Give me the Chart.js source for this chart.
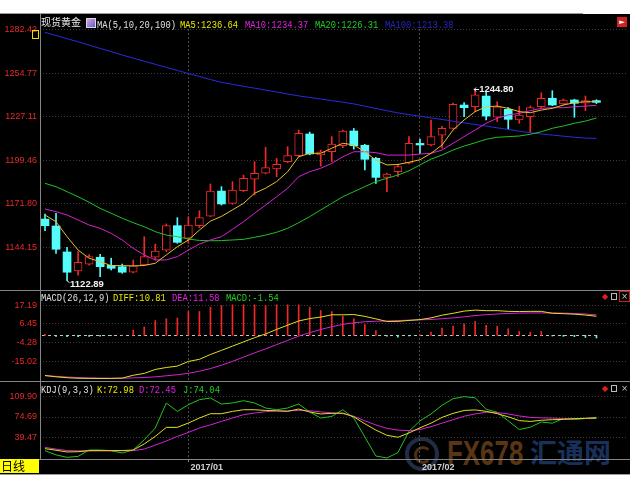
<!DOCTYPE html>
<html>
<head>
<meta charset="utf-8">
<script src="https://cdn.jsdelivr.net/npm/chart.js@4.4.0/dist/chart.umd.min.js"></script>
<style>
  body { margin: 0; background: #fff; }
  #topline { position: absolute; left: 0; top: 13px; width: 583px; height: 1px; background: #9a9a9a; }
  #botline { position: absolute; left: 0; top: 474px; width: 630px; height: 1px; background: #9a9a9a; }
  #wrap { position: absolute; left: 0; top: 14px; width: 630px; height: 460px; background: #000; overflow: hidden; }
  canvas { position: absolute; left: 0; z-index: 1; }
  .hl { position: absolute; left: 0; width: 630px; height: 1px; background: #858585; z-index: 2; }
  .vl { position: absolute; left: 40px; top: 0; width: 1px; height: 445px; background: #858585; z-index: 2; }
  .t { position: absolute; white-space: pre; font: 10.5px/12px "Liberation Mono", monospace; transform: scaleX(0.837); transform-origin: 0 0; z-index: 2; }
  .cjk { position: absolute; white-space: pre; font: 10px/12px "Noto Sans CJK SC", sans-serif; color: #e8e8e8; z-index: 2; }
  .ico { position: absolute; z-index: 2; font: 8px/8px "DejaVu Sans", sans-serif; }
  #day { position: absolute; left: 0; top: 445px; width: 38px; height: 14px; background: #ffff00; color: #000;
         font: 12px/14px "Noto Sans CJK SC", sans-serif; padding-left: 1px; z-index: 3; }
  .wm { position: absolute; white-space: pre; z-index: 0; }
</style>
</head>
<body>
<div id="topline"></div>
<div id="wrap">
  <div class="wm" style="left:405px;top:423px;width:26px;height:26px;border:4px solid #222c44;border-radius:50%;"></div>
  <div class="wm" style="left:414px;top:432px;width:12px;height:12px;border:3px solid #4e2e14;border-radius:50%;border-right-color:transparent;"></div>
  <div class="wm" style="left:447px;top:421px;font:bold 35px/35px 'Liberation Sans',sans-serif;color:#5a3514;transform:scaleX(0.74);transform-origin:0 0;">FX678</div>
  <div class="wm" style="left:530px;top:424px;font:bold 27px/27px 'Noto Sans CJK SC',sans-serif;color:#18305a;">汇通网</div>

  <canvas id="c1" width="630" height="276" style="top:0"></canvas>
  <canvas id="c2" width="630" height="92" style="top:276px"></canvas>
  <canvas id="c3" width="630" height="92" style="top:368px"></canvas>

  <div class="vl"></div>
  <div class="hl" style="top:276px"></div>
  <div class="hl" style="top:367px"></div>
  <div class="hl" style="top:445px"></div>

  <div class="ico" style="left:32px;top:16px;width:5px;height:7px;border:1px solid #e8e000;"></div>
  <div class="ico" style="left:86px;top:4px;width:8px;height:8px;border:1px solid #d8d8d8;background:linear-gradient(135deg,#e0a0e0,#6060d0);"></div>
  <div class="ico" style="left:617px;top:3px;width:10px;height:10px;background:#d02020;color:#fff;text-align:center;font-size:7px;line-height:10px;">&#9658;</div>

  <div class="ico" style="left:602px;top:279px;color:#e02020;">&#9670;</div>
  <div class="ico" style="left:611px;top:279px;width:4px;height:5px;border:1px solid #bbb;"></div>
  <div class="ico" style="left:619px;top:277px;width:9px;height:9px;border:1px solid #c02020;color:#ccc;text-align:center;line-height:9px;">&#215;</div>
  <div class="ico" style="left:602px;top:371px;color:#e02020;">&#9670;</div>
  <div class="ico" style="left:611px;top:371px;width:4px;height:5px;border:1px solid #bbb;"></div>
  <div class="ico" style="left:620px;top:370px;width:9px;height:9px;color:#ccc;text-align:center;line-height:9px;">&#215;</div>

  <div id="day">日线</div>
  <div id="heads"></div>
</div>
<div id="botline"></div>

<script>
// daily candles, 13 Dec 2016 .. Feb 2017
const opens  = [1162.1,1157.7,1141.2,1129.1,1133.5,1137.8,1132.7,1131.8,1128.3,1132.9,1137.8,1142.4,1157.9,1149.9,1157.9,1164.0,1179.9,1172.1,1180.1,1187.4,1191.2,1193.9,1198.6,1202.4,1216.2,1202.8,1204.9,1208.7,1218.1,1209.0,1200.7,1188.6,1192.2,1197.6,1210.2,1209.2,1215.5,1219.8,1234.6,1233.5,1240.3,1226.8,1231.9,1225.1,1227.2,1233.5,1238.9,1235.3,1237.8,1235.7,1237.4];
const highs  = [1165.3,1165.8,1144.2,1141.4,1139.5,1139.7,1137.2,1133.5,1136.1,1150.9,1146.2,1159.0,1163.0,1163.6,1167.4,1184.4,1182.7,1185.9,1190.1,1198.6,1207.7,1200.7,1208.1,1218.7,1217.4,1206.0,1214.5,1218.7,1219.7,1209.6,1201.4,1191.3,1197.1,1214.5,1213.0,1225.1,1221.0,1235.9,1236.1,1244.8,1242.7,1236.7,1233.0,1233.8,1234.0,1242.4,1243.7,1238.5,1238.3,1240.3,1238.0];
const lows   = [1154.7,1140.3,1122.89,1126.5,1132.8,1125.5,1129.7,1127.6,1127.9,1132.5,1136.1,1141.4,1146.7,1146.7,1156.6,1163.6,1171.0,1171.4,1179.6,1177.4,1190.8,1189.0,1198.0,1201.7,1202.9,1195.8,1198.6,1207.5,1206.6,1193.3,1184.8,1179.5,1189.0,1197.1,1203.9,1208.6,1207.1,1219.2,1227.2,1230.4,1225.1,1224.0,1219.2,1223.0,1217.1,1232.9,1234.2,1234.6,1226.8,1231.0,1235.5];
const closes = [1157.9,1142.9,1128.3,1134.6,1138.2,1131.8,1130.8,1128.3,1132.4,1138.2,1141.8,1157.9,1147.3,1158.3,1163.0,1179.9,1171.7,1180.6,1188.0,1191.2,1194.8,1196.9,1202.4,1216.6,1203.5,1204.9,1209.8,1218.1,1208.7,1200.1,1188.6,1190.7,1195.4,1210.3,1209.2,1214.5,1219.8,1235.0,1232.9,1241.0,1227.6,1233.5,1225.5,1228.2,1232.9,1238.9,1234.6,1237.8,1235.7,1237.4,1236.3];

const ma5   = [1164.7,1160.4,1150.9,1142.4,1137.2,1135.0,1132.5,1132.5,1132.3,1132.6,1134.0,1139.3,1144.5,1148.8,1155.1,1160.8,1163.8,1167.9,1172.1,1178.5,1181.7,1185.9,1192.2,1201.7,1203.9,1203.9,1207.1,1210.3,1209.2,1204.9,1199.6,1196.5,1196.8,1198.2,1199.8,1203.9,1209.2,1218.7,1225.1,1230.4,1233.5,1233.9,1232.5,1230.4,1229.7,1231.4,1232.5,1234.6,1236.1,1236.7,1236.64];
const ma10  = [1168.5,1166.8,1164.7,1161.5,1158.3,1156.2,1153.0,1148.8,1143.5,1139.3,1136.1,1136.1,1138.2,1142.4,1146.2,1148.8,1150.9,1155.6,1160.4,1165.8,1171.0,1176.3,1181.7,1189.0,1192.2,1194.4,1197.5,1201.7,1204.9,1204.9,1204.3,1202.8,1202.8,1202.8,1203.5,1203.9,1206.0,1210.3,1214.5,1218.7,1223.0,1226.2,1228.3,1229.3,1231.0,1232.5,1232.9,1232.9,1233.5,1233.9,1234.37];
const ma20  = [1184.8,1182.7,1179.5,1176.3,1172.8,1168.9,1165.8,1162.6,1159.8,1157.2,1154.1,1151.9,1150.9,1149.4,1148.5,1148.3,1148.4,1148.8,1149.2,1150.5,1151.9,1153.7,1156.2,1159.8,1163.6,1167.9,1172.1,1176.3,1179.5,1182.7,1185.9,1188.0,1190.1,1192.8,1196.5,1200.2,1202.8,1206.0,1208.5,1210.6,1212.8,1214.1,1214.5,1214.9,1216.0,1217.6,1219.8,1221.3,1223.0,1224.4,1226.31];
const ma100 = [1280.8,1278.8,1276.8,1274.8,1272.7,1270.6,1268.5,1266.4,1264.4,1262.4,1260.5,1258.5,1256.6,1254.6,1252.7,1250.8,1249.0,1247.8,1246.5,1245.3,1244.1,1242.9,1241.6,1240.4,1239.4,1238.4,1237.4,1236.4,1235.3,1233.9,1232.4,1231.0,1229.6,1228.5,1227.5,1226.4,1225.4,1224.3,1223.3,1222.2,1221.2,1220.1,1219.1,1218.0,1217.0,1216.2,1215.5,1214.8,1214.1,1213.6,1213.38];

const diff = [-22.8,-23.6,-24.1,-24.4,-24.5,-24.55,-24.5,-24.3,-22.7,-21.65,-19.4,-18.3,-17.5,-14.85,-13.65,-10.9,-8.55,-6.15,-3.75,-1.35,0.75,3.35,5.75,8.15,9.5,10.35,11.65,11.65,11.8,10.75,9.35,7.85,7.9,8.45,8.9,9.9,11.45,12.5,13.75,14.3,14.0,14.0,13.6,13.5,13.6,13.6,12.5,12.3,12.0,11.5,10.81];
const dea  = [-23.0,-23.3,-23.7,-24.0,-24.2,-24.3,-24.4,-24.4,-24.2,-24.0,-23.6,-23.0,-22.4,-21.6,-20.4,-18.9,-17.0,-14.8,-12.4,-10.0,-7.7,-5.3,-2.9,-0.5,1.5,3.3,4.9,6.2,7.1,7.7,8.0,8.1,8.4,8.6,8.8,9.0,9.4,9.9,10.5,11.2,11.7,12.1,12.4,12.6,12.7,12.7,12.7,12.6,12.4,12.1,11.58];
const hist = [0.5,-0.6,-0.8,-0.8,-0.6,-0.5,-0.1,0.1,3.0,4.7,8.4,9.4,9.8,13.5,13.5,16.0,16.9,17.3,17.3,17.3,16.9,17.3,17.3,17.3,16.0,14.1,13.5,10.9,9.4,6.1,2.7,-0.5,-1.0,-0.3,0.2,1.8,4.1,5.2,6.5,7.8,5.6,5.2,3.7,2.2,1.8,2.2,-0.4,-0.6,-0.8,-1.2,-1.54];

const kLine = [19.8,17.0,14.0,14.5,16.3,16.3,16.3,16.5,17.4,28.0,41.1,56.7,56.7,64.3,72.9,80.4,80.4,84.4,87.3,87.3,86.1,85.5,84.4,88.5,83.4,80.0,81.0,81.5,75.0,63.0,52.0,43.0,39.5,47.0,56.0,64.0,74.0,81.0,86.0,87.0,84.5,80.5,75.0,68.5,67.0,69.0,70.0,70.5,71.7,72.5,72.98];
const dLine = [22.0,19.0,16.5,16.0,16.0,16.2,16.3,16.3,16.3,19.0,26.0,33.0,41.0,48.0,55.6,61.0,67.0,73.0,78.7,81.5,84.0,85.0,85.6,86.0,85.6,83.5,82.0,80.5,76.0,68.0,61.0,55.0,52.0,51.0,53.0,58.0,64.0,70.0,76.0,80.0,83.0,82.5,80.0,76.5,74.0,73.2,72.8,72.0,71.8,72.1,72.45];
const jLine = [16.3,9.0,4.7,6.4,17.4,17.4,16.3,12.3,17.4,35.3,55.6,99.0,84.4,96.0,104.7,107.6,97.2,99.0,103.0,99.0,90.3,87.3,90.3,97.2,83.4,72.9,75.7,87.3,72.9,40.0,7.0,3.6,13.0,50.0,68.0,80.0,95.0,106.4,110.0,108.0,88.0,83.0,68.0,53.0,57.0,66.0,64.0,72.0,70.5,72.0,74.04];

const priceTicks = [1144.15, 1171.80, 1199.46, 1227.11, 1254.77, 1282.42];
const macdTicks = [-15.02, -4.28, 6.45, 17.19];
const kdjTicks = [39.47, 74.69, 109.90];
const monthTickIdx = [13, 34];
const monthTickLabels = ['2017/01', '2017/02'];

const X_MIN = -0.453, X_MAX = 52.86;
const RED = '#f02828', CYAN = '#54fcfc';
const YEL = '#e6c22a', MAG = '#d424d4', GRN = '#22c222', BLU = '#2a2ae0';

Chart.defaults.font.family = '"Liberation Sans", Arial, sans-serif';

const last = a => a[a.length - 1];
const pts = a => a.map((v, i) => ({ x: i, y: v }));

// header texts
const heads = document.getElementById('heads');
function head(x, top, text, color) {
  const d = document.createElement('div');
  d.className = 't';
  d.style.left = x + 'px'; d.style.top = top + 'px'; d.style.color = color;
  d.textContent = text;
  heads.appendChild(d);
}
const cj = document.createElement('div');
cj.className = 'cjk'; cj.style.left = '41px'; cj.style.top = '1.5px'; cj.textContent = '现货黄金';
heads.appendChild(cj);
head(97, 5, 'MA(5,10,20,100)', '#e0e0e0');
head(180, 5, 'MA5:' + last(ma5).toFixed(2), '#e8e800');
head(245, 5, 'MA10:' + last(ma10).toFixed(2), '#e020e0');
head(315, 5, 'MA20:' + last(ma20).toFixed(2), '#20d020');
head(385, 5, 'MA100:' + last(ma100).toFixed(2), '#2626c4');
head(41, 278, 'MACD(26,12,9)', '#e0e0e0');
head(113, 278, 'DIFF:' + last(diff).toFixed(2), '#e8e800');
head(172, 278, 'DEA:' + last(dea).toFixed(2), '#e020e0');
head(226, 278, 'MACD:' + last(hist).toFixed(2), '#20d020');
head(41, 369.5, 'KDJ(9,3,3)', '#e0e0e0');
head(97, 369.5, 'K:' + last(kLine).toFixed(2), '#e8e800');
head(139, 369.5, 'D:' + last(dLine).toFixed(2), '#e020e0');
head(183, 369.5, 'J:' + last(jLine).toFixed(2), '#20d020');

function xAxis(bottom) {
  return {
    type: 'linear', min: X_MIN, max: X_MAX, offset: false,
    afterBuildTicks: s => { s.ticks = monthTickIdx.map(v => ({ value: v })); },
    afterFit: s => { s.height = bottom ? 15 : 0; s.paddingLeft = 0; s.paddingRight = 0; },
    grid: { offset: false, color: '#4c4c4c', drawTicks: bottom, tickLength: 3, tickColor: '#8a8a8a' },
    border: { display: false, dash: [2, 2] },
    ticks: {
      display: bottom, autoSkip: false, maxRotation: 0, align: 'start', labelOffset: 2, padding: 0,
      color: '#d0d0d0', font: { size: 9, weight: 'bold' },
      callback: (v, i) => monthTickLabels[i]
    }
  };
}
function yAxis(min, max, ticks) {
  return {
    type: 'linear', position: 'left', min: min, max: max,
    afterBuildTicks: s => { s.ticks = ticks.map(v => ({ value: v })); },
    afterFit: s => { s.width = 40; s.paddingTop = 0; s.paddingBottom = 0; },
    grid: { color: '#3c3c3c', drawTicks: false },
    border: { display: false, dash: [1, 2] },
    ticks: { color: '#e82828', padding: 3, autoSkip: false, font: { size: 9 }, callback: v => v.toFixed(2) }
  };
}
function lineSet(data, color) {
  return { type: 'line', data: pts(data), borderColor: color, borderWidth: 1, pointRadius: 0, tension: 0, order: 1 };
}
function baseOptions(padTop, yMin, yMax, yTicks, bottom) {
  return {
    responsive: false, animation: false, devicePixelRatio: 1, events: [],
    layout: { autoPadding: false, padding: { top: padTop, right: 2, left: 0, bottom: 0 } },
    plugins: { legend: { display: false }, tooltip: { enabled: false } },
    scales: { x: xAxis(bottom), y: yAxis(yMin, yMax, yTicks) }
  };
}

// main candle panel
const idx = closes.map((_, i) => i);
const upIdx = idx.filter(i => closes[i] >= opens[i]);
const dnIdx = idx.filter(i => closes[i] < opens[i]);

const markPlugin = {
  id: 'marks',
  afterDatasetsDraw(chart) {
    const { ctx, scales: { x, y } } = chart;
    const hi = highs.indexOf(Math.max(...highs));
    const lo = lows.indexOf(Math.min(...lows));
    ctx.save();
    ctx.fillStyle = '#f0f0f0'; ctx.strokeStyle = '#f0f0f0'; ctx.lineWidth = 1;
    ctx.font = 'bold 9.5px "Liberation Sans"';
    const hx = x.getPixelForValue(hi) - 1, hy = Math.round(y.getPixelForValue(highs[hi])) + 0.5;
    ctx.beginPath();
    ctx.moveTo(hx, hy); ctx.lineTo(hx + 5, hy);
    ctx.moveTo(hx, hy); ctx.lineTo(hx + 2, hy - 2);
    ctx.moveTo(hx, hy); ctx.lineTo(hx + 2, hy + 2);
    ctx.stroke();
    ctx.textBaseline = 'middle';
    ctx.fillText(highs[hi].toFixed(2), hx + 5, hy);
    const lx = x.getPixelForValue(lo), ly = y.getPixelForValue(lows[lo]);
    ctx.beginPath(); ctx.moveTo(lx, ly); ctx.lineTo(lx + 2.5, ly + 2); ctx.stroke();
    ctx.textBaseline = 'top';
    ctx.fillText(lows[lo].toFixed(2), lx + 3, ly - 1.5);
    ctx.restore();
  }
};

new Chart(document.getElementById('c1'), {
  type: 'bar',
  data: {
    datasets: [
      lineSet(ma5, YEL), lineSet(ma10, MAG), lineSet(ma20, GRN), lineSet(ma100, BLU),
      { type: 'bar', data: upIdx.map(i => ({ x: i, y: [opens[i], closes[i]] })), backgroundColor: '#000', borderColor: RED,
        borderWidth: 1, borderSkipped: false, barThickness: 8, minBarLength: 1, grouped: false, order: 2 },
      { type: 'bar', data: dnIdx.map(i => ({ x: i, y: [closes[i], opens[i]] })), backgroundColor: CYAN, borderColor: CYAN,
        borderWidth: 0, barThickness: 8, minBarLength: 1, grouped: false, order: 2 },
      { type: 'bar', data: upIdx.map(i => ({ x: i, y: [lows[i], highs[i]] })), backgroundColor: RED,
        barThickness: 1, grouped: false, order: 3 },
      { type: 'bar', data: dnIdx.map(i => ({ x: i, y: [lows[i], highs[i]] })), backgroundColor: CYAN,
        barThickness: 1, grouped: false, order: 3 }
    ]
  },
  options: baseOptions(15, 1117.0, 1282.93, priceTicks, false),
  plugins: [markPlugin]
});

// MACD panel
const zeroLine = {
  id: 'zero',
  beforeDatasetsDraw(chart) {
    const { ctx, chartArea: a, scales: { x, y } } = chart;
    const py = Math.round(y.getPixelForValue(0)) + 0.5;
    ctx.save();
    ctx.strokeStyle = '#c4c4c4'; ctx.lineWidth = 1; ctx.setLineDash([3, 3]);
    ctx.beginPath(); ctx.moveTo(a.left + 2, py); ctx.lineTo(x.getPixelForValue(hist.length - 1), py); ctx.stroke();
    ctx.restore();
  }
};
new Chart(document.getElementById('c2'), {
  type: 'bar',
  data: {
    datasets: [
      lineSet(diff, '#e0e020'), lineSet(dea, MAG),
      { type: 'bar', data: pts(hist), backgroundColor: ctx => (ctx.raw && ctx.raw.y < 0 ? CYAN : RED),
        barThickness: 1, grouped: false, order: 2 }
    ]
  },
  options: baseOptions(12, -26.53, 18.92, macdTicks, false),
  plugins: [zeroLine]
});

// KDJ panel
new Chart(document.getElementById('c3'), {
  type: 'line',
  data: { datasets: [lineSet(kLine, '#e0e020'), lineSet(dLine, MAG), lineSet(jLine, GRN)] },
  options: baseOptions(13, 1.84, 112.85, kdjTicks, true)
});
</script>
</body>
</html>
